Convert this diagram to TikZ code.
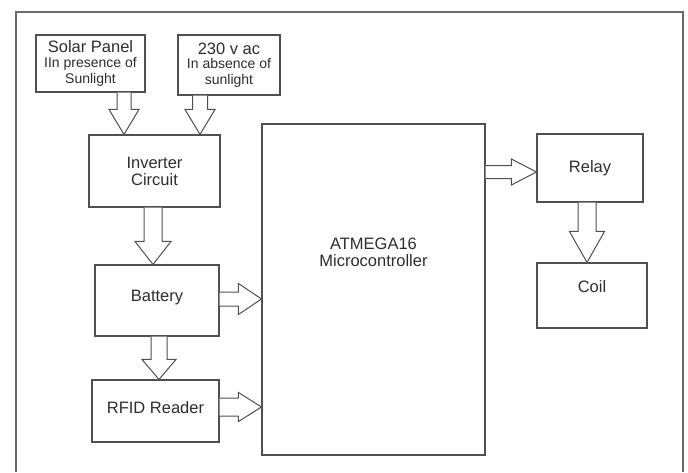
\documentclass[tikz,border=0pt]{standalone}
\usepackage{fontspec}
\setmainfont{Liberation Sans}
\usepackage{tikz}
\usetikzlibrary{calc, positioning}
\usepackage{xcolor}
\definecolor{linegray}{HTML}{505050}
\definecolor{textgray}{HTML}{2E2E2E}
\definecolor{framegray}{HTML}{6A6A6A}

\newcommand{\smalltxt}{\fontsize{14}{17}\selectfont}
% 空心箭头: 起点, 终点, 箭杆半宽, 箭头半宽, 箭头长度
\newcommand{\fatarrow}[5]{%
  \coordinate (fa-h) at ($(#2)!#5!(#1)$);
  \draw[hollow] ($(#1)!#3!90:(#2)$) -- ($(fa-h)!#3!-90:(#1)$) -- ($(fa-h)!#4!-90:(#1)$)
    -- (#2) -- ($(fa-h)!#4!90:(#1)$) -- ($(fa-h)!#3!90:(#1)$) -- ($(#1)!#3!-90:(#2)$);
}

\begin{document}
\begin{tikzpicture}[x=1pt, y=-1pt,
    box/.style={draw=linegray, line width=1.1pt, fill=white, text=textgray, inner sep=0pt,
      align=center, font=\fontsize{16.5}{17}\selectfont},
    hollow/.style={draw=linegray, line width=1pt, line join=miter, fill=white}]
    \useasboundingbox (0,0) rectangle (688,472);

    % 外框
    \draw[framegray, line width=1.3pt] (16,472) -- (16,12) -- (683,12) -- (683,472);

    % 电源
    \node[box, minimum width=109pt, minimum height=57pt] (solar) at (90.5,63.5)
      {Solar Panel\\[-2.5pt]{\smalltxt IIn presence of}\\[-1pt]{\smalltxt Sunlight}};
    \node[box, minimum width=102pt, minimum height=60pt] (ac) at (229,65)
      {230 v ac\\[-2.5pt]{\smalltxt In absence of}\\[-1pt]{\smalltxt sunlight}};

    % 左列
    \node[box, minimum width=131pt, minimum height=72pt] (inv) at (154.5,171) {Inverter\\Circuit};
    \node[box, minimum width=124pt, minimum height=71pt, text depth=9pt] (batt) at (157,300.5) {Battery};
    \node[box, minimum width=127pt, minimum height=62pt, text depth=6pt] (rfid) at (155.5,411) {RFID Reader};

    % 单片机
    \node[box, minimum width=223pt, minimum height=331pt] (mcu) at (373.5,289.5) {};
    \node[text=textgray, align=center, font=\fontsize{16.5}{17}\selectfont] (mcutxt)
      at ([yshift=37.5pt]mcu.center) {ATMEGA16\\Microcontroller};

    % 右列
    \node[box, minimum width=106pt, minimum height=68pt] (relay) at (590,168) {Relay};
    \node[box, minimum width=110pt, minimum height=65pt, text depth=17pt] (coil) at (592,295.5) {Coil};

    % 箭头端点
    \coordinate (s1) at ([xshift=33.5pt]solar.south);
    \coordinate (e1) at (s1 |- inv.north);
    \coordinate (s2) at ([xshift=-29pt]ac.south);
    \coordinate (e2) at (s2 |- inv.north);
    \coordinate (s3) at ([xshift=-1.5pt]inv.south);
    \coordinate (e3) at (s3 |- batt.north);
    \coordinate (s4) at ([xshift=2pt]batt.south);
    \coordinate (e4) at (s4 |- rfid.north);
    \coordinate (s5) at ([yshift=1.5pt]batt.east);
    \coordinate (e5) at (s5 -| mcu.west);
    \coordinate (s6) at ([yshift=4pt]rfid.east);
    \coordinate (e6) at (s6 -| mcu.west);
    \coordinate (e7) at ([yshift=-4pt]relay.west);
    \coordinate (s7) at (e7 -| mcu.east);
    \coordinate (s8) at ([xshift=-3pt]relay.south);
    \coordinate (e8) at (s8 |- coil.north);

    % 箭头
    \fatarrow{s1}{e1}{7pt}{15pt}{25pt}
    \fatarrow{s2}{e2}{7.5pt}{15pt}{25pt}
    \fatarrow{s3}{e3}{9pt}{18pt}{23pt}
    \fatarrow{s4}{e4}{8pt}{17pt}{20pt}
    \fatarrow{s5}{e5}{7pt}{15.5pt}{23pt}
    \fatarrow{s6}{e6}{9pt}{14.5pt}{23pt}
    \fatarrow{s7}{e7}{6.5pt}{13pt}{25pt}
    \fatarrow{s8}{e8}{9pt}{17.5pt}{31pt}
\end{tikzpicture}
\end{document}
